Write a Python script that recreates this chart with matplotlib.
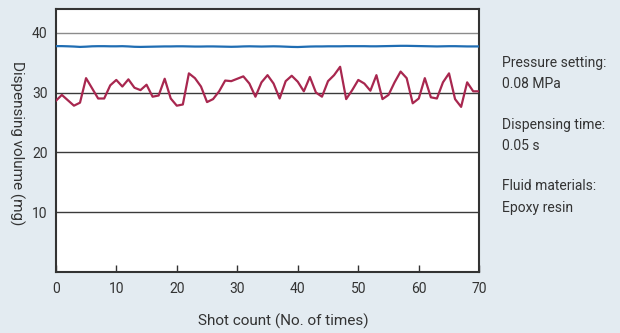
import numpy as np
import matplotlib
matplotlib.use("Agg")
import matplotlib.pyplot as plt

plt.rcParams['font.family'] = ['Roboto', 'DejaVu Sans']

# shot count 0..70
shots = list(range(71))

red_vals = [
	28.6, 29.6, 28.7, 27.8, 28.3, 32.4, 30.7, 29.0, 29.0, 31.2,
	32.1, 31.0, 32.2, 30.8, 30.4, 31.3, 29.3, 29.5, 32.3, 29.0,
	27.8, 28.0, 33.2, 32.4, 31.0, 28.4, 28.9, 30.2, 32.0, 31.9,
	32.3, 32.7, 31.5, 29.3, 31.7, 32.9, 31.5, 29.0, 31.9, 32.8,
	31.8, 30.2, 32.6, 30.0, 29.3, 31.9, 32.9, 34.3, 28.9, 30.4,
	32.1, 31.5, 30.3, 32.9, 28.9, 29.6, 31.7, 33.5, 32.4, 28.2,
	29.0, 32.4, 29.2, 29.0, 31.7, 33.2, 28.9, 27.6, 31.7, 30.2,
	30.2,
]

blue_vals = [
	37.75, 37.75, 37.72, 37.68, 37.62, 37.66, 37.72, 37.74, 37.74, 37.72,
	37.72, 37.74, 37.70, 37.64, 37.62, 37.64, 37.66, 37.68, 37.70, 37.70,
	37.72, 37.72, 37.70, 37.68, 37.68, 37.70, 37.70, 37.68, 37.66, 37.64,
	37.66, 37.70, 37.72, 37.70, 37.68, 37.70, 37.72, 37.70, 37.66, 37.62,
	37.60, 37.64, 37.68, 37.70, 37.70, 37.72, 37.72, 37.72, 37.74, 37.74,
	37.74, 37.74, 37.72, 37.72, 37.74, 37.76, 37.78, 37.80, 37.80, 37.78,
	37.76, 37.74, 37.72, 37.70, 37.72, 37.74, 37.74, 37.72, 37.70, 37.70,
	37.70,
]

yticks = [10, 20, 30, 40]
xticks = [0, 10, 20, 30, 40, 50, 60, 70]

notes = ["Pressure setting:", "0.08 MPa", "Dispensing time:", "0.05 s",
	"Fluid materials:", "Epoxy resin"]

bg = "#e3ebf1"
txt = "#333333"

fig = plt.figure(figsize=(6.2, 3.33), dpi=100, facecolor=bg)
ax = fig.add_axes([0.090, 0.183, 0.683, 0.789])
ax.set_facecolor("white")

for y in yticks:
	c = "#8c8c8c" if y == 40 else "#3a3a3a"
	ax.axhline(y, color=c, lw=1.0, zorder=1)

ax.plot(shots, blue_vals, color="#1f6db3", lw=1.6, zorder=3)
ax.plot(shots, red_vals, color="#a8274f", lw=1.6, zorder=3)

ax.set_xlim(0, 70)
ax.set_ylim(0, 43.9)
ax.set_xticks(xticks)
ax.set_yticks(yticks)
ax.tick_params(axis="x", direction="in", length=5, width=1, color="#333333",
	labelsize=10, labelcolor=txt, pad=7)
ax.tick_params(axis="y", length=0, labelsize=10, labelcolor=txt, pad=6)
for s in ax.spines.values():
	s.set_color("#333333")
	s.set_linewidth(1.5)

fig.text(283 / 620, 1 - 321 / 333, "Shot count (No. of times)", fontsize=11,
	color=txt, ha="center", va="center")
fig.text(17 / 620, 1 - 143 / 333, "Dispensing volume (mg)", fontsize=11,
	color=txt, ha="center", va="center", rotation=270)

ys = [0.81, 0.747, 0.624, 0.561, 0.441, 0.375]
for t, y in zip(notes, ys):
	fig.text(0.809, y, t, fontsize=10, color=txt, va="center", ha="left")

fig.savefig("out.png", dpi=100, facecolor=bg)
